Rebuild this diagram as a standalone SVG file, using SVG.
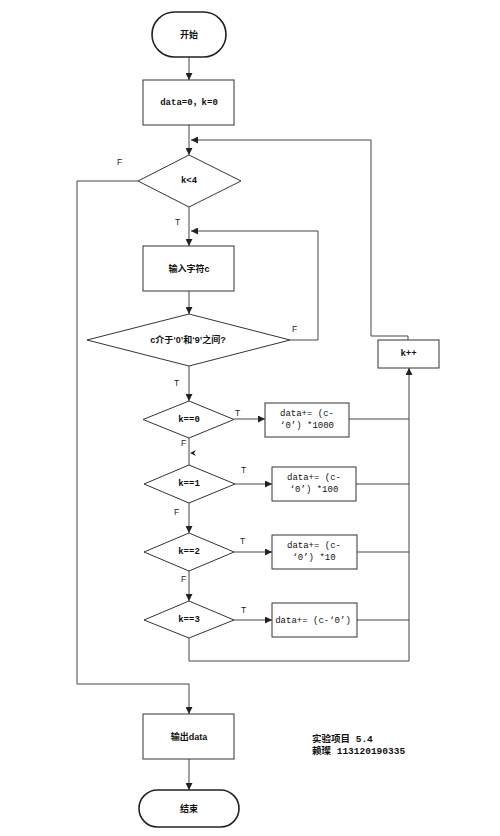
<svg xmlns="http://www.w3.org/2000/svg" width="500" height="836" viewBox="0 0 500 836">
<defs>
<marker id="arr" viewBox="0 0 10 10" refX="10" refY="5" markerWidth="7" markerHeight="7" markerUnits="userSpaceOnUse" orient="auto">
<path d="M0,0 L10,5 L0,10 z" fill="#222"/>
</marker>
<style>
.shape{fill:#fff;stroke:#333;stroke-width:1}
.term{fill:#fff;stroke:#222;stroke-width:1.6}
.conn{fill:none;stroke:#444;stroke-width:1}
.t{font-family:"Liberation Sans","Noto Sans CJK SC",sans-serif;font-size:9px;font-weight:bold;fill:#111;text-anchor:middle;dominant-baseline:central}
.m{font-family:"Liberation Mono","Noto Sans CJK SC",monospace;font-size:9px;fill:#111;text-anchor:middle}
.mb{font-family:"Liberation Mono","Noto Sans CJK SC",monospace;font-size:9px;font-weight:bold;fill:#111;text-anchor:middle;dominant-baseline:central}
.lbl{font-family:"Liberation Sans",sans-serif;font-size:8.5px;fill:#222}
.note{font-family:"Liberation Mono","Noto Sans CJK SC",monospace;font-size:9.5px;font-weight:bold;fill:#111}
</style>
</defs>
<rect width="500" height="836" fill="#fff"/>
<g id="connectors">
<path class="conn" d="M189,57 V80" marker-end="url(#arr)"/>
<path class="conn" d="M189,125 V155" marker-end="url(#arr)"/>
<path class="conn" d="M408,340 V336 H371 V140 H191" marker-end="url(#arr)"/>
<path class="conn" d="M189,207 V246" marker-end="url(#arr)"/>
<path class="conn" d="M290,340 H318 V231 H191" marker-end="url(#arr)"/>
<path class="conn" d="M189,291 V314" marker-end="url(#arr)"/>
<path class="conn" d="M189,366 V401" marker-end="url(#arr)"/>
<path class="conn" d="M234,419 H265" marker-end="url(#arr)"/>
<path class="conn" d="M349,419 H409"/>
<path class="conn" d="M189,438 V465"/>
<path d="M190,453 L196,450 L194,453 L196,456 z" fill="#222"/>
<path class="conn" d="M235,484 H272" marker-end="url(#arr)"/>
<path class="conn" d="M356,484 H409"/>
<path class="conn" d="M189,503 V533" marker-end="url(#arr)"/>
<path class="conn" d="M234,552 H272" marker-end="url(#arr)"/>
<path class="conn" d="M357,552 H409"/>
<path class="conn" d="M189,571 V601" marker-end="url(#arr)"/>
<path class="conn" d="M234,620 H272" marker-end="url(#arr)"/>
<path class="conn" d="M357,620 H409"/>
<path class="conn" d="M189,638 V661 H409 V368" marker-end="url(#arr)"/>
<path class="conn" d="M138,181 H77 V684 H189 V714" marker-end="url(#arr)"/>
<path class="conn" d="M189,759 V790" marker-end="url(#arr)"/>
<text class="lbl" x="117" y="165">F</text>
<text class="lbl" x="175" y="225">T</text>
<text class="lbl" x="292" y="332">F</text>
<text class="lbl" x="174" y="386">T</text>
<text class="lbl" x="235" y="416">T</text>
<text class="lbl" x="181" y="446">F</text>
<text class="lbl" x="241" y="473">T</text>
<text class="lbl" x="174" y="515">F</text>
<text class="lbl" x="240" y="544">T</text>
<text class="lbl" x="181" y="582">F</text>
<text class="lbl" x="241" y="613">T</text>
</g>
<g id="start">
<rect class="term" x="152" y="12" width="74" height="45" rx="22.5"/>
<text class="t" x="189" y="34.5">开始</text>
</g>
<g id="init">
<rect class="shape" x="143" y="80" width="91" height="45"/>
<text class="mb" x="189" y="102.5">data=0，k=0</text>
</g>
<g id="cond-k4">
<polygon class="shape" points="189,155 241,181 189,207 138,181"/>
<text class="mb" x="189" y="181">k&lt;4</text>
</g>
<g id="input">
<rect class="shape" x="143" y="246" width="91" height="45"/>
<text class="t" x="189" y="268.5">输入字符c</text>
</g>
<g id="cond-digit">
<polygon class="shape" points="189,314 290,340 189,366 87,340"/>
<text class="t" x="188" y="340">c介于‘0’和‘9’之间?</text>
</g>
<g id="k-inc">
<rect class="shape" x="378" y="340" width="61" height="28"/>
<text class="mb" x="408.5" y="354">k++</text>
</g>
<g id="cond-k0">
<polygon class="shape" points="189,401 234,419.5 189,438 143,419.5"/>
<text class="mb" x="189" y="419.5">k==0</text>
</g>
<g id="add1000">
<rect class="shape" x="265" y="403" width="84" height="34"/>
<text class="m" x="307" y="416">data+= (c-</text>
<text class="m" x="307" y="428">‘0’) *1000</text>
</g>
<g id="cond-k1">
<polygon class="shape" points="189,465 235,484 189,503 144,484"/>
<text class="mb" x="189" y="484">k==1</text>
</g>
<g id="add100">
<rect class="shape" x="272" y="467" width="84" height="34"/>
<text class="m" x="314" y="480">data+= (c-</text>
<text class="m" x="314" y="492">‘0’) *100</text>
</g>
<g id="cond-k2">
<polygon class="shape" points="189,533 234,552 189,571 144,552"/>
<text class="mb" x="189" y="552">k==2</text>
</g>
<g id="add10">
<rect class="shape" x="272" y="535" width="85" height="34"/>
<text class="m" x="314" y="548">data+= (c-</text>
<text class="m" x="314" y="560">‘0’) *10</text>
</g>
<g id="cond-k3">
<polygon class="shape" points="189,601 234,620 189,638 144,620"/>
<text class="mb" x="189" y="620">k==3</text>
</g>
<g id="add1">
<rect class="shape" x="272" y="603" width="85" height="34"/>
<text class="m" x="313" y="623">data+= (c-‘0’)</text>
</g>
<g id="output">
<rect class="shape" x="143" y="714" width="91" height="45"/>
<text class="t" x="189" y="736.5">输出data</text>
</g>
<g id="end">
<rect class="term" x="139" y="790" width="100" height="37" rx="18.5"/>
<text class="t" x="189" y="808.5">结束</text>
</g>
<g id="note">
<text class="note" x="312" y="742">实验项目 5.4</text>
<text class="note" x="312" y="754">赖璨 113120190335</text>
</g>
</svg>
